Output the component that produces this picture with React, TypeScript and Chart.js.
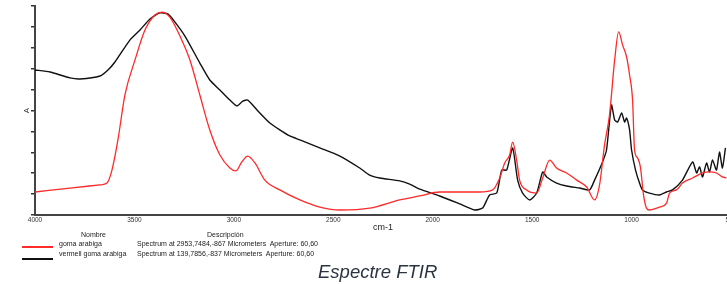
import React, { useEffect, useRef } from "react";
import { Chart, registerables } from "chart.js";

Chart.register(...registerables);

// Wavenumbers (cm-1) and absorbance (axis units 0..10)
const blackWn = [4000, 3925, 3824, 3774, 3673, 3633, 3598, 3523, 3472, 3422, 3372, 3332, 3296, 3246, 3171, 3121, 3070, 3020, 2985, 2955, 2930, 2879, 2819, 2769, 2719, 2668, 2568, 2467, 2367, 2317, 2266, 2166, 2116, 2065, 1965, 1864, 1789, 1749, 1714, 1678, 1653, 1628, 1598, 1573, 1548, 1513, 1477, 1447, 1427, 1377, 1327, 1261, 1211, 1186, 1146, 1126, 1101, 1085, 1070, 1050, 1035, 1025, 1010, 1000, 980, 960, 945, 910, 859, 824, 794, 744, 693, 673, 658, 643, 623, 608, 593, 573, 558, 543, 528];
const blackA = [6.94, 6.84, 6.56, 6.51, 6.65, 6.94, 7.32, 8.37, 8.85, 9.38, 9.67, 9.62, 9.23, 8.56, 7.27, 6.46, 5.98, 5.5, 5.22, 5.45, 5.5, 4.98, 4.4, 4.07, 3.78, 3.59, 3.21, 2.82, 2.25, 1.91, 1.77, 1.63, 1.48, 1.24, 0.91, 0.53, 0.24, 0.33, 0.96, 1.05, 2.15, 2.15, 3.21, 1.67, 1.05, 0.72, 1.05, 2.06, 1.82, 1.53, 1.39, 1.29, 1.2, 1.67, 2.54, 3.11, 5.26, 4.55, 4.45, 4.88, 4.45, 4.64, 4.07, 3.11, 2.15, 1.53, 1.2, 1.05, 0.96, 1.1, 1.2, 1.67, 2.54, 2.01, 2.3, 1.82, 2.49, 2.06, 2.63, 2.15, 3.01, 2.25, 3.21];

const redWn = [4000, 3824, 3673, 3638, 3613, 3583, 3548, 3497, 3447, 3397, 3362, 3322, 3271, 3221, 3171, 3121, 3070, 3020, 2990, 2960, 2930, 2894, 2844, 2769, 2668, 2568, 2467, 2317, 2166, 2065, 1965, 1764, 1699, 1663, 1638, 1613, 1598, 1578, 1563, 1528, 1477, 1447, 1412, 1377, 1327, 1276, 1226, 1186, 1161, 1136, 1111, 1085, 1065, 1045, 1025, 1010, 995, 985, 970, 955, 940, 925, 910, 859, 824, 809, 774, 744, 693, 643, 608, 573, 543, 523];
const redA = [1.1, 1.29, 1.44, 1.53, 2.15, 3.59, 5.74, 7.42, 8.85, 9.57, 9.71, 9.47, 8.56, 7.42, 5.74, 4.07, 2.87, 2.25, 2.11, 2.54, 2.82, 2.49, 1.67, 1.2, 0.72, 0.38, 0.24, 0.33, 0.72, 0.91, 1.1, 1.1, 1.2, 1.77, 2.49, 2.87, 3.49, 2.63, 1.67, 1.2, 1.05, 1.77, 2.63, 2.25, 2.01, 1.67, 1.34, 0.72, 1.44, 3.35, 4.78, 7.42, 8.76, 8.13, 7.56, 6.7, 5.5, 3.11, 2.73, 2.25, 0.96, 0.33, 0.24, 0.38, 0.57, 1.05, 1.2, 1.53, 1.77, 2.01, 2.06, 2.01, 1.82, 1.77];

const seriesNames = ["goma arabiga", "vermell goma arabiga"];
const seriesDescriptions = [
  "Spectrum at 2953,7484,-867 Micrometers  Aperture: 60,60",
  "Spectrum at 139,7856,-837 Micrometers  Aperture: 60,60",
];
const seriesColors = ["#ff2a2a", "#111111"];
const xMin = 500;
const xMax = 4000;
const xStep = 500;
const yMin = 0;
const yMax = 10;

const FONT = "'Liberation Sans', Arial, sans-serif";

export default function App() {
  const ref = useRef<HTMLCanvasElement | null>(null);

  useEffect(() => {
    document.documentElement.style.overflow = "hidden";
    document.body.style.overflow = "hidden";
    const canvas = ref.current;
    if (!canvas) return;
    const chart = new Chart(canvas, {
      type: "line",
      data: {
        datasets: [
          {
            label: seriesNames[0],
            data: redWn.map((w, i) => ({ x: w, y: redA[i] })),
            borderColor: seriesColors[0],
            borderWidth: 1.3,
            pointRadius: 0,
            cubicInterpolationMode: "monotone",
            fill: false,
          },
          {
            label: seriesNames[1],
            data: blackWn.map((w, i) => ({ x: w, y: blackA[i] })),
            borderColor: seriesColors[1],
            borderWidth: 1.4,
            pointRadius: 0,
            tension: 0.2,
            fill: false,
          },
        ],
      },
      options: {
        animation: false,
        responsive: false,
        devicePixelRatio: 1,
        layout: { padding: { top: 6, right: 14, left: 0, bottom: 0 } },
        plugins: { legend: { display: false }, tooltip: { enabled: false } },
        scales: {
          x: {
            type: "linear",
            reverse: true,
            min: xMin,
            max: xMax,
            ticks: {
              stepSize: xStep,
              color: "#333",
              font: { family: FONT, size: 6.5 },
              padding: 1,
              maxRotation: 0,
              callback: (v: any) => String(v),
            },
            grid: { display: true, drawOnChartArea: false, drawTicks: false },
            border: { display: true, color: "#444", width: 2 },
            title: {
              display: true,
              text: "cm-1",
              color: "#222",
              font: { family: FONT, size: 9 },
              padding: { top: 0, bottom: 51 },
            },
            afterFit: (s: any) => {
              s.height = 69;
            },
          },
          y: {
            min: yMin,
            max: yMax,
            ticks: { display: false, stepSize: 1 },
            grid: { display: true, drawOnChartArea: false, drawTicks: true, tickLength: 4, color: "#333", lineWidth: 1.5 },
            border: { display: true, color: "#444", width: 2 },
            title: {
              display: true,
              text: "A",
              color: "#333",
              font: { family: FONT, size: 8 },
              padding: { top: 22, bottom: 0 },
            },
            afterFit: (s: any) => {
              s.width = 35;
            },
          },
        },
      },
    });
    return () => chart.destroy();
  }, []);

  const txt: React.CSSProperties = {
    position: "absolute",
    fontFamily: FONT,
    fontSize: 7,
    color: "#222",
    whiteSpace: "pre",
    lineHeight: "8px",
  };

  return (
    <div style={{ position: "absolute", left: 0, top: 0, width: 745, height: 284, background: "#fff" }}>
      <canvas ref={ref} width={745} height={284} style={{ width: 745, height: 284, display: "block" }} />
      <div style={{ ...txt, left: 81, top: 231 }}>Nombre</div>
      <div style={{ ...txt, left: 207, top: 231 }}>Descripción</div>
      <div style={{ position: "absolute", left: 22, top: 246, width: 31, height: 2, background: seriesColors[0] }} />
      <div style={{ position: "absolute", left: 22, top: 258, width: 31, height: 2, background: seriesColors[1] }} />
      <div style={{ ...txt, left: 59, top: 240 }}>{seriesNames[0]}</div>
      <div style={{ ...txt, left: 59, top: 250 }}>{seriesNames[1]}</div>
      <div style={{ ...txt, left: 137, top: 240 }}>{seriesDescriptions[0]}</div>
      <div style={{ ...txt, left: 137, top: 250 }}>{seriesDescriptions[1]}</div>
      <div
        style={{
          position: "absolute",
          left: 318,
          top: 261,
          fontFamily: FONT,
          fontStyle: "italic",
          fontSize: 18.5,
          color: "#2b3440",
          whiteSpace: "pre",
          lineHeight: "22px",
        }}
      >
        Espectre FTIR
      </div>
    </div>
  );
}
